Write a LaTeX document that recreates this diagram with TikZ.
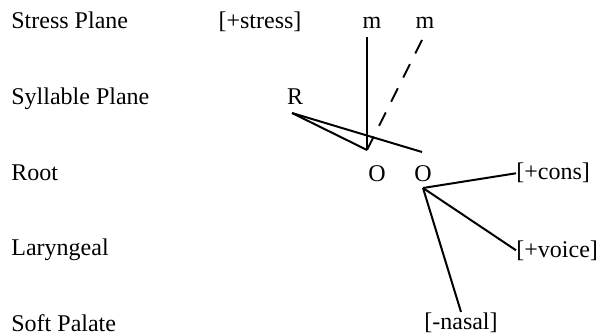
\documentclass[tikz,border=0pt]{standalone}
\usepackage{fontspec}
\setmainfont{Liberation Serif}
\usepackage{tikz}
\usetikzlibrary{positioning,calc}
\tikzset{
  plane/.style={anchor=base west, inner sep=0pt, font=\fontsize{12}{14}\selectfont},
  seg/.style={anchor=base, inner sep=0pt, font=\fontsize{12}{14}\selectfont},
  feat/.style={inner sep=0pt, font=\fontsize{12}{14}\selectfont},
  link/.style={line width=1pt},
  floatlink/.style={line width=1pt, dash pattern=on 7.5pt off 6pt}
}

\begin{document}
\begin{tikzpicture}[x=0.5pt, y=-0.5pt]
\useasboundingbox (0,0) rectangle (599,336);
% tiers
\node[plane] (stress) at (11,29) {Stress Plane};
\node[plane] (syll) at (11,105) {Syllable Plane};
\node[plane] (root) at (11,181) {Root};
\node[plane] (laryn) at (11,256) {Laryngeal};
\node[plane] (soft) at (11,331) {Soft Palate};
% segments
\node[seg] (pstress) at (260,29) {[+stress]};
\node[seg] (m1) at (372,29) {m};
\node[seg] (m2) at (425,29) {m};
\node[seg] (rhyme) at (295,105) {R};
\node[seg] (o1) at (377,182) {O};
\node[seg] (o2) at (423,182) {O};
\node[feat, anchor=base west] (cons) at (516,180) {[+cons]};
\node[feat, anchor=base west] (voice) at (516,257) {[+voice]};
\node[feat, anchor=base] (nasal) at (461,329) {[-nasal]};
% line ends
\coordinate (mtop) at (367,37);
\coordinate (mtip) at (422,40);
\coordinate (rfoot) at (292,113);
\coordinate (j1) at (367,150);
\coordinate (j2) at (422,152);
\coordinate (ofoot) at (423,188);
% links
\draw[link] (mtop) -- (j1);
\draw[floatlink] (mtip) -- (j1);
\draw[link] (rfoot) -- (j1);
\draw[link] (rfoot) -- (j2);
\draw[link] (ofoot) -- (cons.west);
\draw[link] (ofoot) -- (voice.west);
\draw[link] (ofoot) -- (nasal.north);
\end{tikzpicture}
\end{document}
